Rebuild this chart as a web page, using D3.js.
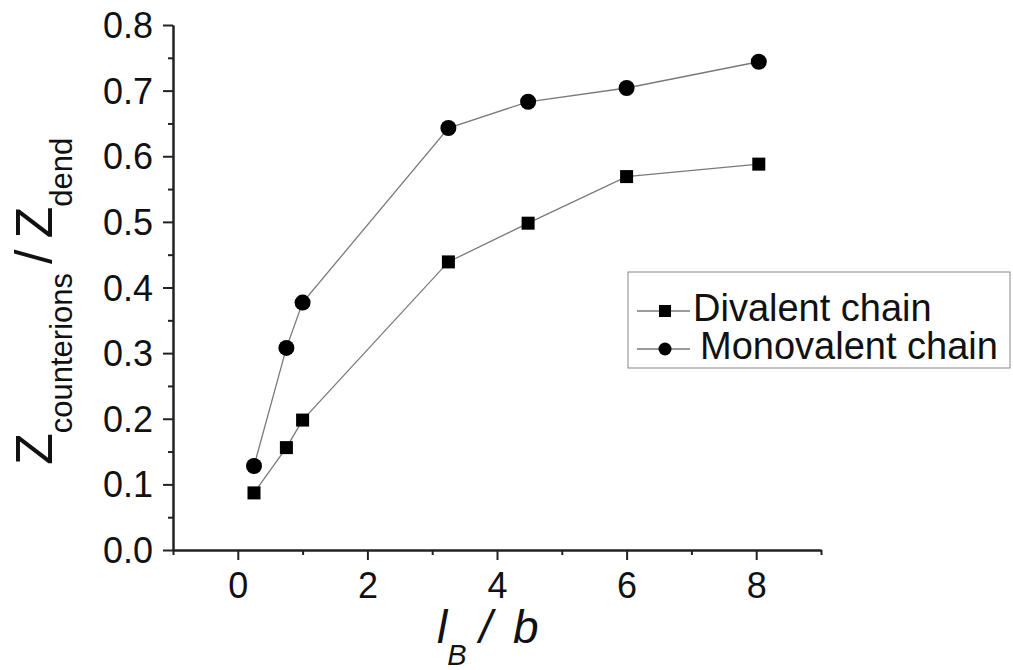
<!DOCTYPE html>
<html>
<head>
<meta charset="utf-8">
<script src="https://cdnjs.cloudflare.com/ajax/libs/d3/7.8.5/d3.min.js"></script>
<style>
  body { margin: 0; background: #fff; }
  svg { display: block; font-family: "Liberation Sans", Arial, sans-serif; }
</style>
</head>
<body>
<svg id="drawing_region"></svg>
<script>
// values
const x_values = [0.25, 0.75, 1, 3.25, 4.48, 6, 8.04]
const divalent = [0.087, 0.156, 0.198, 0.439, 0.498, 0.569, 0.588]
const monovalent = [0.128, 0.308, 0.377, 0.643, 0.683, 0.704, 0.744]
const series_names = ['Divalent chain', 'Monovalent chain']
const x_major = [0, 2, 4, 6, 8]
const x_minor = [-1, 1, 3, 5, 7, 9]
const y_major = [0, 0.1, 0.2, 0.3, 0.4, 0.5, 0.6, 0.7, 0.8]
const y_minor = [0.05, 0.15, 0.25, 0.35, 0.45, 0.55, 0.65, 0.75]

class LineChart{
    constructor(config, data){
        this.config = {
            parent: config.parent,
            width: config.width || 256,
            height: config.height || 256,
            margin: config.margin || {top: 10, left: 10, right: 10, bottom: 10}
        }
        this.data = data
        this.init()
    }

    init(){
        let self = this

        self.svg = d3.select(self.config.parent)
            .attr('width', self.config.width)
            .attr('height', self.config.height)

        self.chart = self.svg.append('g')
            .attr('transform', `translate(${self.config.margin.left},${self.config.margin.top})`)

        self.inner_width = self.config.width - self.config.margin.left - self.config.margin.right
        self.inner_height = self.config.height - self.config.margin.top - self.config.margin.bottom

        self.xscale = d3.scaleLinear().range([0, self.inner_width])
        self.yscale = d3.scaleLinear().range([self.inner_height, 0])

        self.xaxis = d3.axisBottom(self.xscale).tickValues(x_major)
            .tickSize(10).tickSizeOuter(0).tickPadding(12).tickFormat(d3.format('d'))
        self.xaxis_minor = d3.axisBottom(self.xscale).tickValues(x_minor)
            .tickSize(5).tickSizeOuter(0).tickFormat('')
        self.yaxis = d3.axisLeft(self.yscale).tickValues(y_major)
            .tickSize(10).tickSizeOuter(0).tickPadding(10).tickFormat(d3.format('.1f'))
        self.yaxis_minor = d3.axisLeft(self.yscale).tickValues(y_minor)
            .tickSize(5).tickSizeOuter(0).tickFormat('')

        self.line_group = self.chart.append('g')
        self.xaxis_minor_group = self.chart.append('g').attr('transform', `translate(0, ${self.inner_height})`)
        self.xaxis_group = self.chart.append('g').attr('transform', `translate(0, ${self.inner_height})`)
        self.yaxis_minor_group = self.chart.append('g')
        self.yaxis_group = self.chart.append('g')
        self.legend = self.svg.append('g')
    }

    update(){
        let self = this
        self.xscale.domain([-1, 9])
        self.yscale.domain([0, 0.8])
        self.render()
    }

    render(){
        let self = this

        const line = d3.line()
            .x(d => self.xscale(d.x))
            .y(d => self.yscale(d.y))

        self.line_group.selectAll('path').data(self.data).enter()
            .append('path')
            .attr('d', d => line(d.values))
            .attr('fill', 'none')
            .attr('stroke', '#7a7a7a')
            .attr('stroke-width', 1.3)

        // squares for divalent
        self.line_group.selectAll('rect').data(self.data[0].values).enter()
            .append('rect')
            .attr('x', d => self.xscale(d.x) - 6.5)
            .attr('y', d => self.yscale(d.y) - 6.5)
            .attr('width', 13)
            .attr('height', 13)
            .attr('fill', '#000')

        // circles for monovalent
        self.line_group.selectAll('circle').data(self.data[1].values).enter()
            .append('circle')
            .attr('cx', d => self.xscale(d.x))
            .attr('cy', d => self.yscale(d.y))
            .attr('r', 8)
            .attr('fill', '#000')

        const style_axis = g => {
            g.attr('color', '#222')
            g.select('.domain').attr('stroke-width', 2)
            g.selectAll('.tick line').attr('stroke-width', 2)
            g.selectAll('.tick text').attr('font-size', 36).attr('fill', '#111')
                .attr('font-family', '"Liberation Sans", Arial, sans-serif')
        }

        self.xaxis_minor_group.call(self.xaxis_minor).call(style_axis)
        self.xaxis_group.call(self.xaxis).call(style_axis)
        self.yaxis_minor_group.call(self.yaxis_minor).call(style_axis)
        self.yaxis_group.call(self.yaxis).call(style_axis)
        self.yaxis_group.selectAll('.tick text').attr('dy', '0.35em')

        // x label
        const xlabel = self.svg.append('text')
            .attr('x', 437)
            .attr('y', 643)
            .attr('font-style', 'italic')
            .attr('font-size', 46)
            .attr('fill', '#111')
        xlabel.append('tspan').text('l')
        xlabel.append('tspan').attr('font-size', 29).attr('dy', 22).text('B')
        xlabel.append('tspan').attr('dy', -22).text(' /')
        xlabel.append('tspan').attr('dx', 8).text(' b')

        // y label
        const ylabel = self.svg.append('text')
            .attr('transform', 'translate(52, 465) rotate(-90)')
            .attr('font-size', 52)
            .attr('fill', '#111')
        ylabel.append('tspan').text('Z')
        ylabel.append('tspan').attr('font-size', 31).attr('dy', 20).text('counterions')
        ylabel.append('tspan').attr('dy', -20).attr('dx', 9).text('/')
        ylabel.append('tspan').attr('dx', 11).text('Z')
        ylabel.append('tspan').attr('font-size', 31).attr('dy', 20).text('dend')

        // legend
        self.legend.append('rect')
            .attr('x', 628).attr('y', 272)
            .attr('width', 382).attr('height', 96)
            .attr('fill', '#fff')
            .attr('stroke', '#888')
            .attr('stroke-width', 1)

        const rows = self.legend.selectAll('.row').data(self.data).enter()
            .append('g')
            .attr('class', 'row')
            .attr('transform', (d, i) => `translate(0, ${311 + i * 38})`)

        rows.append('line')
            .attr('x1', 637).attr('x2', 690)
            .attr('stroke', '#7a7a7a').attr('stroke-width', 1.3)

        rows.filter((d, i) => i == 0).append('rect')
            .attr('x', 659).attr('y', -6).attr('width', 12).attr('height', 12)
            .attr('fill', '#000')
        rows.filter((d, i) => i == 1).append('circle')
            .attr('cx', 665).attr('r', 6.5)
            .attr('fill', '#000')

        rows.append('text')
            .attr('x', (d, i) => i == 0 ? 693 : 700)
            .attr('y', 10)
            .attr('font-size', 38)
            .attr('fill', '#111')
            .text(d => d.name)
    }
}

const data = [
    {name: series_names[0], values: x_values.map((x, i) => ({x: x, y: divalent[i]}))},
    {name: series_names[1], values: x_values.map((x, i) => ({x: x, y: monovalent[i]}))}
]

var config = {
    parent: '#drawing_region',
    width: 1013,
    height: 670,
    margin: {top: 25, right: 192, bottom: 120, left: 173}
}

const line_chart = new LineChart(config, data)
line_chart.update()
</script>
</body>
</html>
